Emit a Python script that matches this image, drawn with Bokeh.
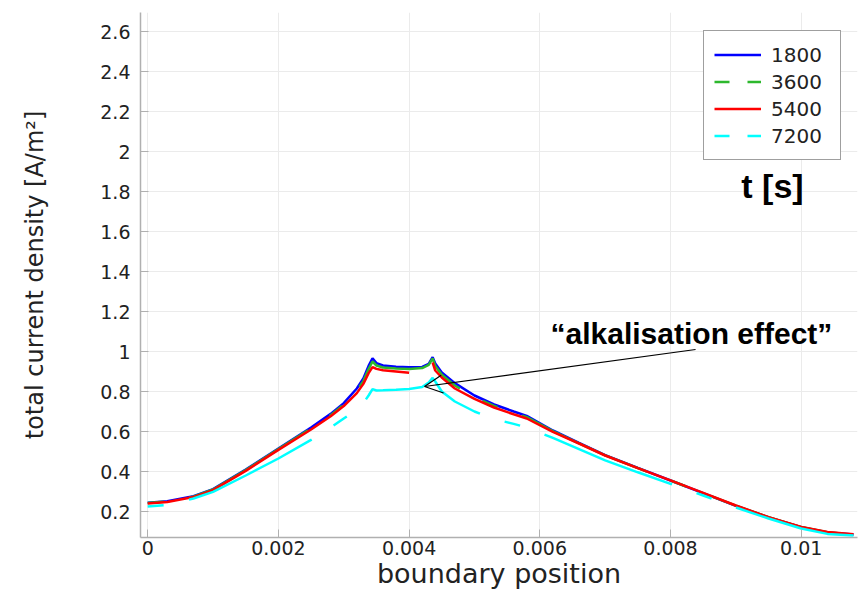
from bokeh.plotting import figure
from bokeh.models import (Range1d, FixedTicker, LinearAxis, Legend, LegendItem,
                          Label, Arrow, OpenHead)
from bokeh.embed import file_html
from bokeh.resources import INLINE

nan = float("nan")

# ---------------- data ----------------
x_pos = [0, 0.0003, 0.0007, 0.001, 0.0015, 0.002, 0.0025, 0.0028, 0.003, 0.0032,
         0.0033, 0.00338, 0.00344, 0.0035, 0.0036, 0.0038, 0.004, 0.0042, 0.0043,
         0.00436, 0.0044, 0.0045, 0.0047, 0.005, 0.0053, 0.0056, 0.0058, 0.0062,
         0.0066, 0.007, 0.0075, 0.008, 0.0085, 0.009, 0.0095, 0.01, 0.0104, 0.0108]

j_1800 = [0.2435, 0.2515, 0.2765, 0.312, 0.41, 0.515, 0.62, 0.688, 0.742, 0.815,
          0.865, 0.928, 0.966, 0.942, 0.930, 0.924, 0.921, 0.923, 0.938,
          0.972, 0.940, 0.895, 0.842, 0.780, 0.735, 0.700, 0.678, 0.605,
          0.543, 0.482, 0.418, 0.355, 0.292, 0.228, 0.170, 0.121, 0.095, 0.085]

j_3600 = [0.242, 0.250, 0.274, 0.310, 0.407, 0.512, 0.615, 0.682, 0.735, 0.804,
          0.852, 0.912, 0.950, 0.930, 0.920, 0.915, 0.912, 0.917, 0.933,
          0.966, 0.928, 0.884, 0.830, 0.772, 0.728, 0.693, 0.672, 0.602,
          0.541, 0.481, 0.417, 0.355, 0.292, 0.229, 0.171, 0.122, 0.096, 0.085]

j_5400 = [0.240, 0.248, 0.272, 0.307, 0.403, 0.508, 0.610, 0.676, 0.727, 0.792,
          0.838, 0.892, 0.922, 0.913, 0.906, 0.900, 0.894, nan, nan,
          0.945, 0.905, 0.870, 0.815, 0.763, 0.720, 0.686, 0.665, 0.598,
          0.540, 0.480, 0.417, 0.356, 0.293, 0.230, 0.172, 0.123, 0.097, 0.086]

j_7200 = [0.225, 0.232, 0.265, 0.298, 0.380, 0.465, 0.558, 0.620, 0.665, 0.708,
          0.742, 0.780, 0.812, 0.805, 0.806, 0.809, 0.813, 0.822, 0.845,
          0.868, 0.850, 0.800, 0.750, 0.700, 0.663, 0.638, 0.620, 0.568,
          0.512, 0.456, 0.396, 0.338, 0.280, 0.220, 0.165, 0.115, 0.088, 0.080]

series_names = ["1800", "3600", "5400", "7200"]

x_ticks = [0, 0.002, 0.004, 0.006, 0.008, 0.01]
x_tick_labels = ["0", "0.002", "0.004", "0.006", "0.008", "0.01"]
y_ticks = [0.2, 0.4, 0.6, 0.8, 1.0, 1.2, 1.4, 1.6, 1.8, 2.0, 2.2, 2.4, 2.6]
y_tick_labels = ["0.2", "0.4", "0.6", "0.8", "1", "1.2", "1.4", "1.6", "1.8",
                 "2", "2.2", "2.4", "2.6"]

# ---------------- figure ----------------
p = figure(width=858, height=591, output_backend="svg", toolbar_location=None,
           x_range=Range1d(-0.00011, 0.010861), y_range=Range1d(0.07, 2.695),
           min_border_left=140, min_border_right=1, min_border_top=12,
           min_border_bottom=54)
p.outline_line_color = None
p.background_fill_color = "white"
p.border_fill_color = "white"

axis_col = "#b0b0b0"
for ax in (p.xaxis[0], p.yaxis[0]):
    ax.axis_line_color = axis_col
    ax.axis_line_width = 1.5
    ax.major_tick_line_color = axis_col
    ax.major_tick_in = 8
    ax.major_tick_out = 0
    ax.minor_tick_line_color = None
    ax.major_label_text_font = "DejaVu Sans"
    ax.major_label_text_font_size = "19px"
    ax.major_label_text_color = "#222222"
    ax.axis_label_text_font = "DejaVu Sans"
    ax.axis_label_text_font_style = "normal"
    ax.axis_label_text_color = "#222222"

p.xaxis.ticker = FixedTicker(ticks=x_ticks)
p.xaxis.major_label_overrides = {t: s for t, s in zip(x_ticks, x_tick_labels)}
p.xaxis.major_label_standoff = 3
p.xaxis.axis_label = "boundary position"
p.xaxis.axis_label_text_font_size = "27px"
p.xaxis.axis_label_standoff = 0

p.yaxis.ticker = FixedTicker(ticks=y_ticks)
p.yaxis.major_label_overrides = {t: s for t, s in zip(y_ticks, y_tick_labels)}
p.yaxis.major_label_standoff = 10
p.yaxis.axis_label = "total current density [A/m²]"
p.yaxis.axis_label_text_font_size = "24px"
p.yaxis.axis_label_standoff = 48

p.xgrid.ticker = FixedTicker(ticks=x_ticks)
p.ygrid.ticker = FixedTicker(ticks=y_ticks)
p.grid.grid_line_color = "#ebebeb"
p.grid.grid_line_width = 1

colors = ["#0000ff", "#2db82d", "#ff0000", "#00ffff"]
dashes = ["solid", "16 26 137 26", "solid", "16 26 137 26"]
legend_dashes = ["solid", "15 18", "solid", "15 18"]
series = [j_1800, j_3600, j_5400, j_7200]

for ys, c, d in zip(series, colors, dashes):
    p.line(x_pos, ys, line_color=c, line_width=2.5, line_dash=d)

# legend-only renderers (a single undefined point, so nothing is drawn in the plot)
leg_renderers = [p.line([nan], [nan], line_color=c, line_width=2.5, line_dash=d)
                 for c, d in zip(colors, legend_dashes)]
legend = Legend(items=[LegendItem(label=n, renderers=[r])
                       for n, r in zip(series_names, leg_renderers)],
                location=(563, 377), orientation="vertical",
                border_line_color="#404040", border_line_width=1.5,
                background_fill_color="white", background_fill_alpha=1.0,
                label_text_font="DejaVu Sans", label_text_font_size="20px",
                label_text_color="#222222", label_text_baseline="middle",
                glyph_width=47, glyph_height=27, label_height=27, label_width=59,
                label_standoff=10, padding=10, spacing=0, margin=0)
p.add_layout(legend, "center")

p.add_layout(Label(x=0.00956, y=1.83, text="t [s]", text_font="Liberation Sans",
                   text_font_style="bold", text_font_size="34px",
                   text_align="center", text_baseline="middle", text_color="black"))
p.add_layout(Label(x=0.00832, y=1.09, text="\u201calkalisation effect\u201d",
                   text_font="Liberation Sans", text_font_style="bold",
                   text_font_size="30px", text_align="center",
                   text_baseline="middle", text_color="black"))
p.add_layout(Arrow(x_start=0.008383, y_start=1.01, x_end=0.004236, y_end=0.825,
                   line_color="black", line_width=1.2,
                   end=OpenHead(size=18, line_width=1.2, line_color="black")))

open("out.html", "w").write(file_html(p, INLINE))
